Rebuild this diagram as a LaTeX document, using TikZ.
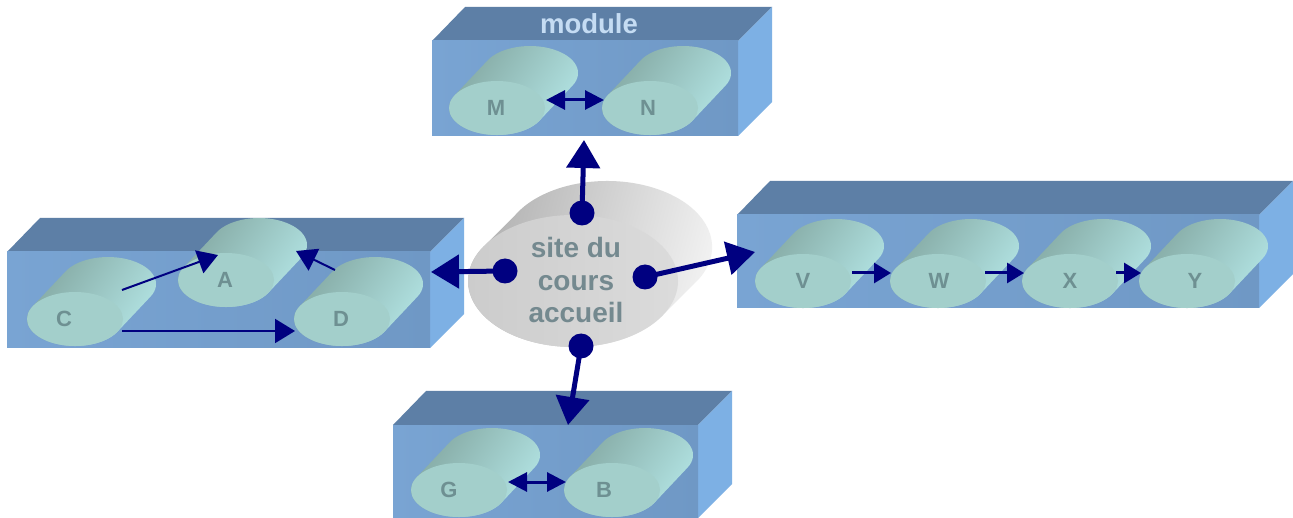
\documentclass[tikz,border=0pt]{standalone}
\usepackage{fontspec}
\setmainfont{Liberation Sans}
\usetikzlibrary{arrows.meta,calc,shapes.geometric}
\definecolor{boxtop}{HTML}{5D7FA6}
\definecolor{boxside}{HTML}{7DB0E4}
\definecolor{boxfrontL}{HTML}{79A4D3}
\definecolor{boxfrontR}{HTML}{6F98C5}
\definecolor{cylface}{HTML}{A3CFCB}
\definecolor{cyldark}{HTML}{82A6A0}
\definecolor{cylmid}{HTML}{98C4C0}
\definecolor{cyllight}{HTML}{B4E6E6}
\definecolor{cyllabel}{HTML}{6E9092}
\definecolor{linkblue}{HTML}{000080}
\definecolor{sitelabel}{HTML}{74898F}
\tikzset{
  facenode/.style={ellipse,fill=cylface,minimum width=96,minimum height=54,inner sep=0},
  cyllabeltext/.style={text=cyllabel,font=\bfseries\fontsize{22}{24}\selectfont,inner sep=0},
  dotnode/.style={circle,fill=linkblue,minimum size=25,inner sep=0},
  biglink/.style={draw=linkblue,line width=5,-{Triangle[length=28,width=33]}},
  midlink/.style={draw=linkblue,line width=3,-{Triangle[length=17,width=20]}},
  thinlink/.style={draw=linkblue,line width=2,-{Triangle[length=20,width=24]}},
  bothlink/.style={draw=linkblue,line width=3,{Triangle[length=19,width=19]}-{Triangle[length=19,width=19]}},
}
% front left x, front right x, front top y, front bottom y
\newcommand{\platebox}[4]{%
  \fill[boxtop] (#1,#3) -- ++(33,-34) -- ($(#2,#3)+(34,-34)$) -- (#2,#3) -- cycle;
  \fill[boxside] (#2,#3) -- ++(34,-34) -- ($(#2,#4)+(34,-34)$) -- (#2,#4) -- cycle;
  \shade[left color=boxfrontL,right color=boxfrontR] (#1,#3) rectangle (#2,#4);
}
% name, cx, cy, label, label x
\newcommand{\drum}[5]{%
  \shade[left color=cyldark,middle color=cylmid,right color=cyllight,shading angle=55]
    (#2,#3) ++(33,-35) ++(-42.1,-12.9)
    arc[start angle=208.6,end angle=388.6,x radius=48,y radius=27]
    -- ++(-33,35)
    arc[start angle=28.6,end angle=208.6,x radius=48,y radius=27] -- cycle;
  \node[facenode] (#1) at (#2,#3) {};
  \node[cyllabeltext] (#1t) at (#5,#3) {#4};
}
\begin{document}
\begin{tikzpicture}[x=1pt,y=-1pt]
\useasboundingbox (0,0) rectangle (1293,518);
\fill[white] (0,0) rectangle (1293,518);
% boxes
\platebox{432}{738}{41}{136}
\platebox{7}{430}{252}{348}
\platebox{737}{1259}{215}{308}
\platebox{393}{698}{425}{518}
\node[text=white!55!boxside,font=\bfseries\fontsize{27.5}{28}\selectfont,inner sep=0] (mod) at (589,24) {module};
% cylinders
\drum{M}{497}{108}{M}{496}
\drum{N}{650}{108}{N}{648}
\drum{A}{226}{280}{A}{225}
\drum{C}{75}{319}{C}{64}
\drum{D}{342}{319}{D}{341}
\drum{V}{803}{281}{V}{803}
\drum{W}{938}{281}{W}{939}
\drum{X}{1070}{281}{X}{1070}
\drum{Y}{1187}{281}{Y}{1195}
\drum{G}{459}{490}{G}{449}
\drum{B}{612}{490}{B}{604}
% central disc
\shade[left color=white!68!black,right color=white!96!black,shading angle=75]
  (607,247) ++(-92.1,-31.6)
  arc[start angle=208.6,end angle=388.6,x radius=105,y radius=66]
  -- ++(-34,34)
  arc[start angle=28.6,end angle=208.6,x radius=105,y radius=66] -- cycle;
\node[ellipse,left color=white!80!black,right color=white!86!black,minimum width=210,minimum height=132,inner sep=0] (site) at (573,281) {};
\node[text=sitelabel,font=\bfseries\fontsize{28}{32.5}\selectfont,align=center,inner sep=0] (sitetext) at (576,280) {site du\\cours\\accueil};
% hubs
\node[dotnode] (hubN) at (582,213) {};
\node[dotnode] (hubW) at (505,271) {};
\node[dotnode] (hubE) at (645,277) {};
\node[dotnode] (hubS) at (581,346) {};
\coordinate (endN) at (584,140);
\coordinate (endW) at (431,272);
\coordinate (endE) at (755,252);
\coordinate (endS) at (568,425);
\draw[biglink] (hubN.center) -- (endN);
\draw[biglink] (hubW.center) -- (endW);
\draw[biglink] (hubE.center) -- (endE);
\draw[biglink] (hubS.center) -- (endS);
% internal links
\coordinate (cA) at (122,290); \coordinate (aC) at (218,255);
\coordinate (dA) at (335,270); \coordinate (aD) at (296,251);
\coordinate (cD) at (122,331); \coordinate (dC) at (295,331);
\draw[thinlink] (cA) -- (aC);
\draw[thinlink] (dA) -- (aD);
\draw[thinlink] (cD) -- (dC);
\coordinate (vW) at (852,273); \coordinate (wV) at (891,273);
\coordinate (wX) at (985,273); \coordinate (xW) at (1024,273);
\coordinate (xY) at (1116,273); \coordinate (yX) at (1141,273);
\draw[midlink] (vW) -- (wV);
\draw[midlink] (wX) -- (xW);
\draw[midlink] (xY) -- (yX);
\coordinate (mN) at (546,100); \coordinate (nM) at (604,100);
\coordinate (gB) at (508,482); \coordinate (bG) at (566,482);
\draw[bothlink] (mN) -- (nM);
\draw[bothlink] (gB) -- (bG);
\end{tikzpicture}
\end{document}
